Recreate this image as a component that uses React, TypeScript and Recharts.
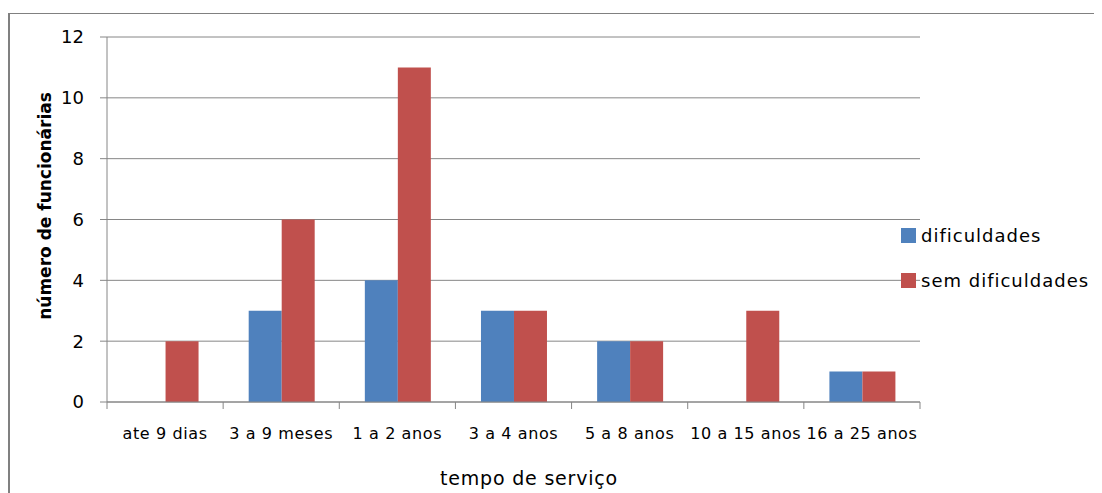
import React from "react";
import { BarChart, Bar, XAxis, YAxis, CartesianGrid, Label } from "recharts";

const categories = ["ate 9 dias", "3 a 9 meses", "1 a 2 anos", "3 a 4 anos", "5 a 8 anos", "10 a 15 anos", "16 a 25 anos"];
const dificuldades = [0, 3, 4, 3, 2, 0, 1];
const semDificuldades = [2, 6, 11, 3, 2, 3, 1];
const yTicks = [0, 2, 4, 6, 8, 10, 12];

const data = categories.map((c, i) => ({ name: c, dificuldades: dificuldades[i], sem: semDificuldades[i] }));

const W = 1094;
const H = 485;
const M = { top: 29, right: 182, bottom: 51, left: 39 };
const Y_W = 60;
const X_H = 40;
const plotW = W - M.left - M.right - Y_W;
const band = plotW / categories.length;

const GRID = "#868686";
const BLUE = "#4F81BD";
const RED = "#C0504D";
const FONT = "'DejaVu Sans', sans-serif";

const XTick = (props: any) => {
  const { x, y, payload, index } = props;
  const left = x - band / 2;
  return (
    <g>
      <line x1={left} x2={left} y1={y - 8} y2={y - 1} stroke={GRID} />
      {index === categories.length - 1 && (
        <line x1={left + band} x2={left + band} y1={y - 8} y2={y - 1} stroke={GRID} />
      )}
      <text x={x} y={y + 29} textAnchor="middle" fontSize={16} letterSpacing={0.6} fontFamily={FONT} fill="#000">
        {payload.value}
      </text>
    </g>
  );
};

const legendItems = [
  { c: BLUE, t: "dificuldades" },
  { c: RED, t: "sem dificuldades" },
];

export default function App() {
  return (
    <div style={{ position: "relative", width: W, height: H }}>
      <div
        style={{
          position: "absolute",
          left: -1,
          top: 5,
          width: W + 1,
          height: H - 5,
          borderLeft: "3px solid #808080",
          borderTop: "1px solid #808080",
          boxSizing: "border-box",
        }}
      />
      <div style={{ position: "absolute", left: 0, top: 0 }}>
        <BarChart width={W} height={H} data={data} margin={M} barCategoryGap="22%" barGap={0}>
          <CartesianGrid vertical={false} stroke={GRID} strokeDasharray="" />
          <XAxis
            dataKey="name"
            height={X_H}
            axisLine={{ stroke: GRID }}
            tickLine={false}
            tick={<XTick />}
            interval={0}
          >
            <Label
              content={() => (
                <text x={521} y={477} textAnchor="middle" fontSize={19} letterSpacing={0.8} fontFamily={FONT} fill="#000">
                  tempo de serviço
                </text>
              )}
            />
          </XAxis>
          <YAxis
            width={Y_W}
            domain={[0, 12]}
            ticks={yTicks}
            axisLine={{ stroke: GRID }}
            tickLine={{ stroke: GRID }}
            tickSize={7}
            tick={{ fontSize: 18, fontFamily: FONT, fill: "#000" }}
            tickMargin={16}
          >
            <Label
              content={() => (
                <text
                  x={43}
                  y={198}
                  transform="rotate(-90 43 198)"
                  textAnchor="middle"
                  fontSize={17}
                  fontWeight="bold"
                  fontFamily={FONT}
                  fill="#000"
                >
                  número de funcionárias
                </text>
              )}
            />
          </YAxis>
          <Bar dataKey="dificuldades" name="dificuldades" fill={BLUE} isAnimationActive={false} />
          <Bar dataKey="sem" name="sem dificuldades" fill={RED} isAnimationActive={false} />
        </BarChart>
      </div>
      <div style={{ position: "absolute", left: 893, top: 220, fontFamily: FONT, fontSize: 18, letterSpacing: 1, color: "#000" }}>
        {legendItems.map((it, i) => (
          <div key={i} style={{ display: "flex", alignItems: "center", height: 15, marginBottom: i === 0 ? 30 : 0, whiteSpace: "nowrap" }}>
            <span style={{ display: "inline-block", width: 15, height: 15, background: it.c, marginRight: 5 }} />
            <span style={{ lineHeight: "15px" }}>{it.t}</span>
          </div>
        ))}
      </div>
    </div>
  );
}
